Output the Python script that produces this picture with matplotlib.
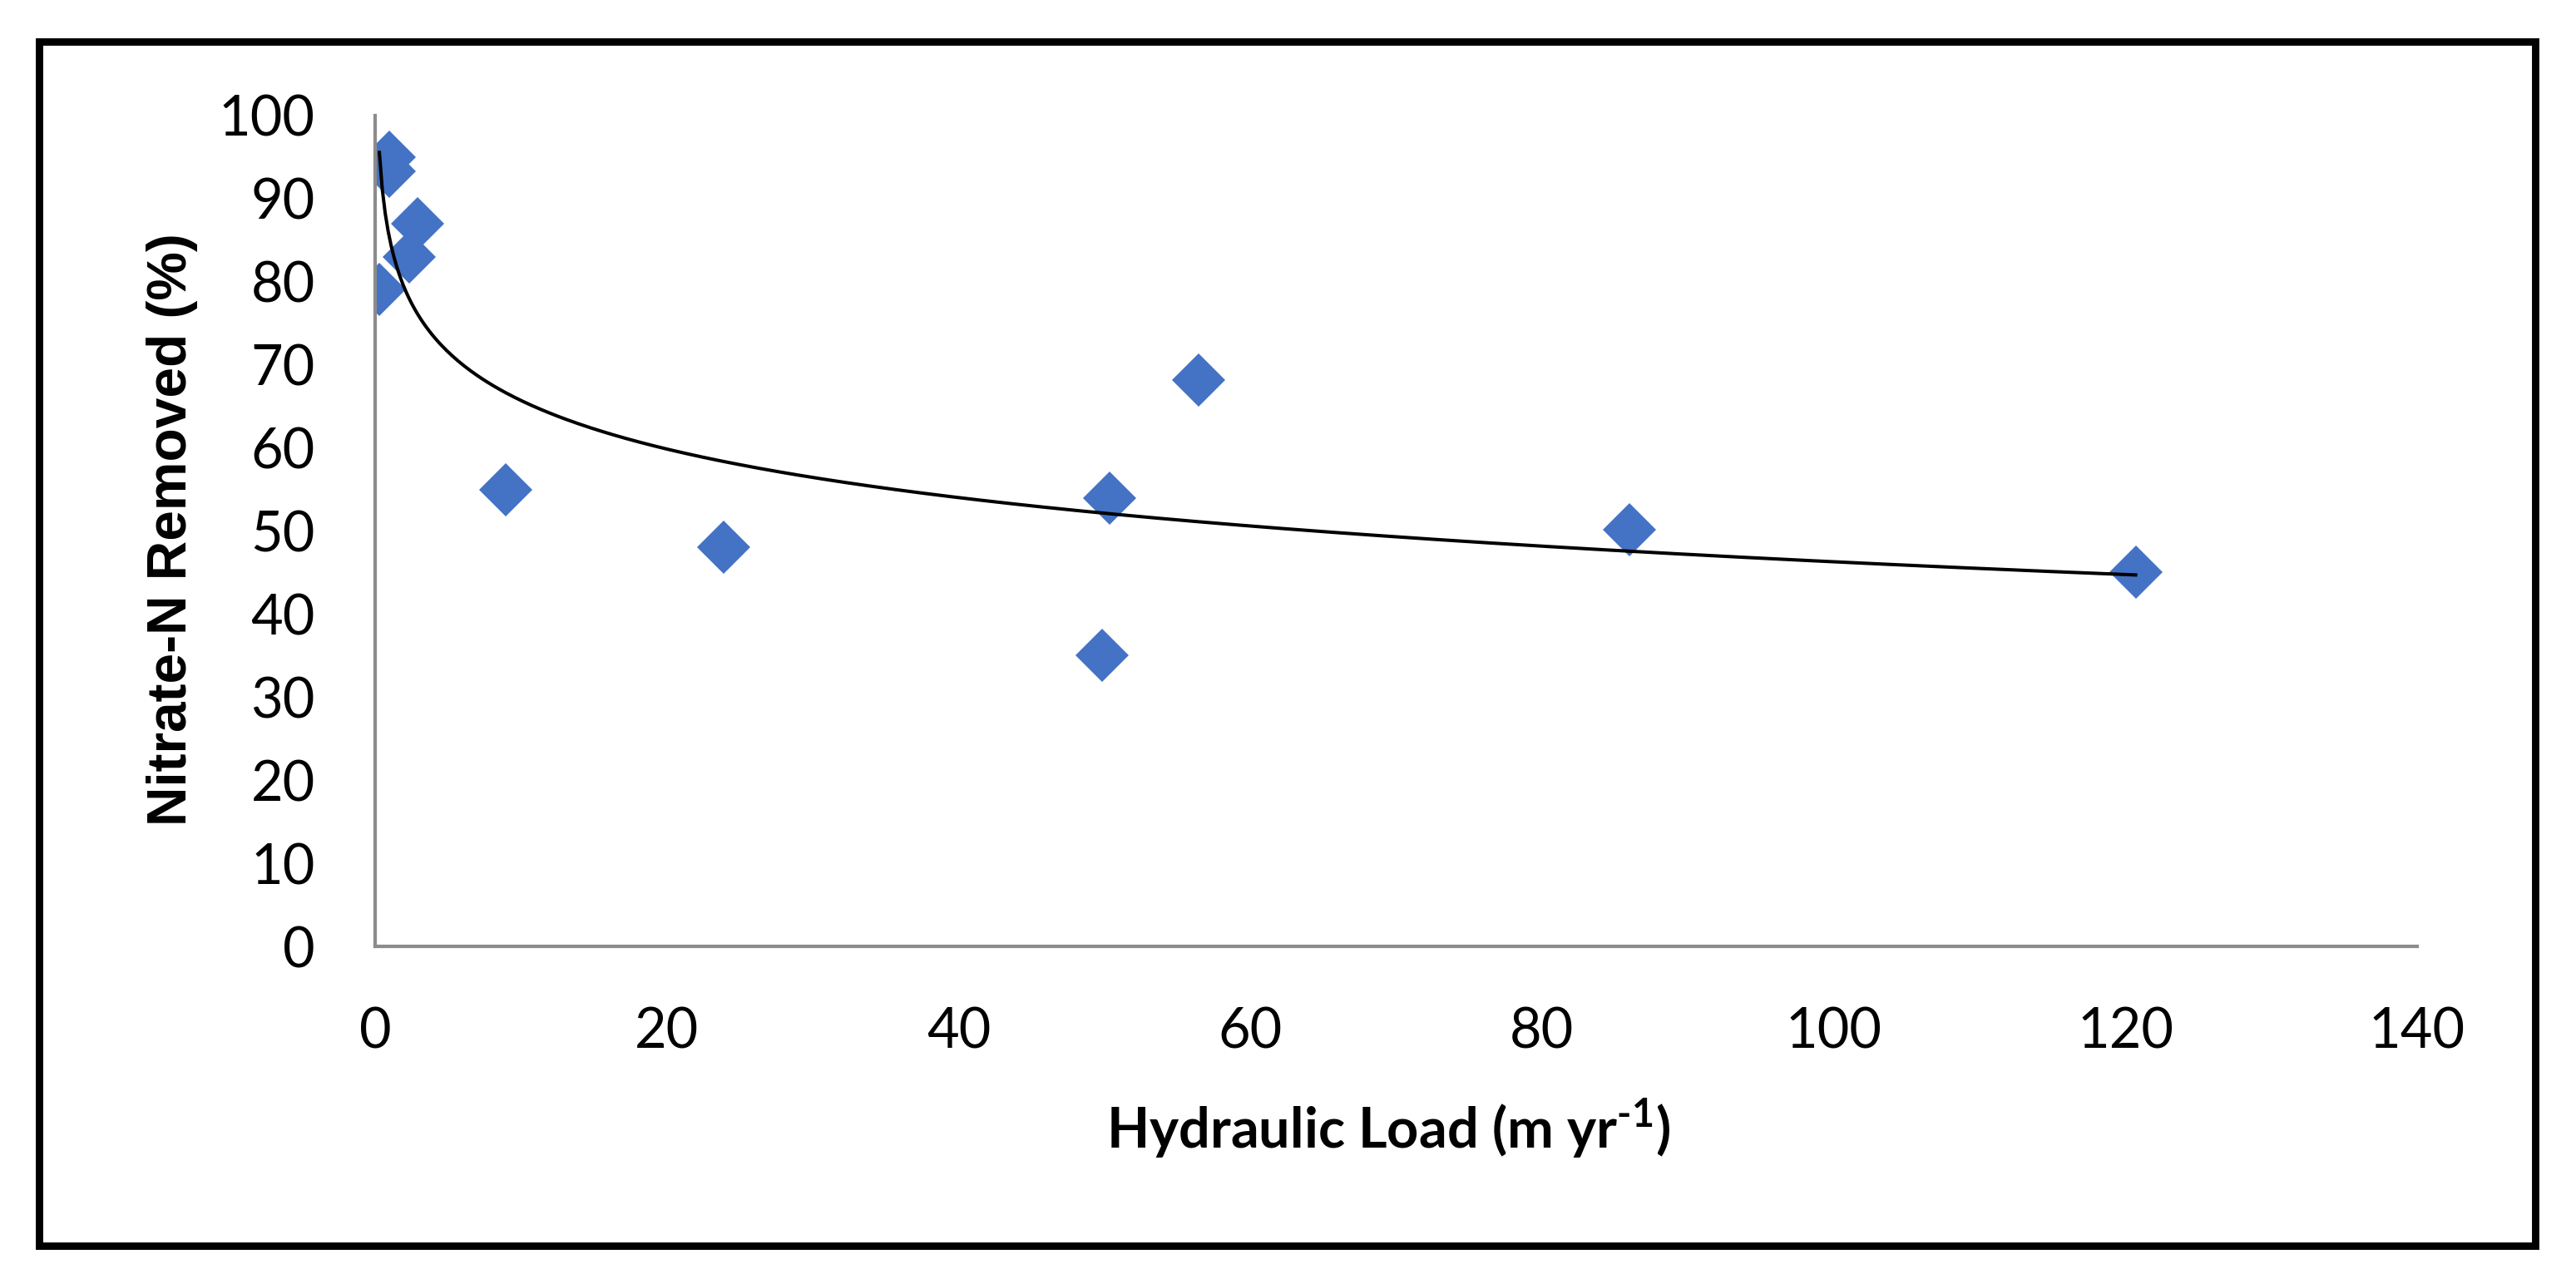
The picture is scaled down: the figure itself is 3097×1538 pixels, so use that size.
import numpy as np
import matplotlib
matplotlib.use("Agg")
import matplotlib.pyplot as plt
from matplotlib.patches import Rectangle

# Data
hydraulic_load = [0.99, 0.99, 2.89, 2.32, 0.29, 8.96, 23.9, 49.86, 50.37, 56.45, 86.0, 120.7]
nitrate_removed = [95.0, 93.3, 87.0, 83.0, 79.1, 55.0, 48.0, 35.0, 54.0, 68.2, 50.2, 45.0]
x_ticks = [0, 20, 40, 60, 80, 100, 120, 140]
y_ticks = [0, 10, 20, 30, 40, 50, 60, 70, 80, 90, 100]

plt.rcParams['font.family'] = ['Lato', 'DejaVu Sans']
plt.rcParams['mathtext.fontset'] = 'custom'
plt.rcParams['mathtext.rm'] = 'Lato:bold'
plt.rcParams['mathtext.bf'] = 'Lato:bold'

W, H, DPI = 3097, 1538, 200
fig = plt.figure(figsize=(W / DPI, H / DPI), dpi=DPI)
fig.patch.set_facecolor('white')

# axes position in pixels
left, right, top, bottom = 451, 2906, 139, 1138
ax = fig.add_axes([left / W, 1 - bottom / H, (right - left) / W, (bottom - top) / H])

x = np.array(hydraulic_load)
y = np.array(nitrate_removed)

# logarithmic trendline (Excel style)
a, b = np.polyfit(np.log(x), y, 1)
xs = np.linspace(x.min(), x.max(), 600)
ax.plot(xs, a * np.log(xs) + b, color='black', lw=1.45, zorder=3)

ax.plot(x, y, linestyle='none', marker='D', markersize=16.5,
        color='#4472C4', markeredgewidth=0, zorder=2)

ax.set_xlim(0, 140)
ax.set_ylim(0, 100)
ax.set_xticks(x_ticks)
ax.set_yticks(y_ticks)
ax.tick_params(length=0, labelsize=24, colors='black')
ax.tick_params(axis='y', pad=26)
ax.tick_params(axis='x', pad=26)

for s in ['top', 'right']:
    ax.spines[s].set_visible(False)
for s in ['left', 'bottom']:
    ax.spines[s].set_color('#8c8c8c')
    ax.spines[s].set_linewidth(1.5)

# axis titles
fig.text(1669 / W, 1 - 1357 / H, r'Hydraulic Load (m yr$^{\text{-1}}$)',
         ha='center', va='center', fontsize=24, fontweight='bold')
fig.text(207 / W, 1 - 637 / H, 'Nitrate-N Removed (%)', rotation=90,
         ha='center', va='center', fontsize=23.7, fontweight='bold',
         family='Liberation Sans')

# outer frame
fig.patches.append(Rectangle((47 / W, 1 - 1498 / H), (3048 - 47) / W, (1498 - 50) / H,
                             transform=fig.transFigure, fill=False,
                             edgecolor='black', lw=3.2))

fig.savefig('out.png', dpi=DPI)
